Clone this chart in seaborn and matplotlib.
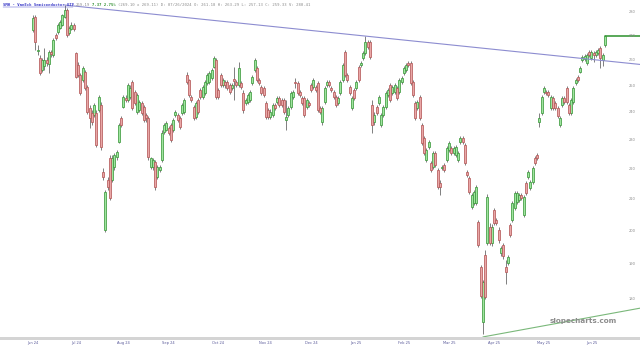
import numpy as np
import pandas as pd
import matplotlib
matplotlib.use("Agg")
import matplotlib.pyplot as plt
import matplotlib.transforms as mtransforms
from matplotlib.patches import Rectangle
import seaborn as sns
from pandas.tseries.holiday import USFederalHolidayCalendar

# ---------------- data ----------------
opens = [
    272.3, 277.9, 263.6, 260.8, 256.1, 257.6, 260.0, 258.4, 263.2, 262.0,
    270.2, 271.5, 273.2, 274.5, 277.9, 280.9, 271.1, 272.8, 274.5, 262.8,
    258.0, 254.1, 252.2, 255.3, 249.5, 241.6, 239.7, 239.0, 239.7, 240.8,
    242.7, 219.0, 200.3, 216.3, 223.7, 216.3, 220.6, 224.1, 229.3, 237.9,
    241.9, 245.3, 244.5, 245.7, 251.4, 247.6, 240.1, 240.8, 243.4, 241.9,
    239.0, 237.9, 220.6, 220.6, 222.3, 217.3, 219.6, 223.0, 232.8, 233.5,
    234.3, 235.3, 233.5, 239.0, 239.0, 237.9, 239.7, 240.1, 254.1, 252.2,
    245.7, 241.9, 238.3, 244.5, 248.3, 245.7, 247.2, 251.0, 251.4, 253.0,
    257.2, 260.0, 248.3, 254.1, 250.2, 251.4, 251.4, 250.2, 249.1, 252.6,
    251.4, 250.2, 251.0, 247.2, 243.4, 243.8, 244.5, 251.0, 256.1, 256.8,
    252.2, 249.5, 249.1, 243.4, 240.8, 238.3, 239.0, 242.7, 243.8, 245.3,
    244.5, 244.5, 237.2, 239.0, 241.9, 245.7, 251.4, 251.0, 247.6, 245.3,
    245.3, 241.9, 243.4, 250.2, 249.5, 249.5, 251.0, 241.6, 236.4, 243.8,
    250.2, 251.4, 249.1, 247.6, 245.7, 243.4, 247.2, 252.2, 263.2, 254.1,
    249.5, 241.6, 248.3, 249.1, 257.2, 258.0, 260.8, 262.8, 267.3, 267.3,
    242.7, 236.4, 241.9, 243.4, 235.3, 239.0, 241.9, 246.4, 250.2, 247.2,
    247.6, 249.1, 247.6, 251.4, 254.9, 256.1, 258.8, 258.8, 251.4, 243.4,
    241.6, 245.7, 235.3, 230.6, 223.0, 227.5, 222.0, 220.6, 225.4, 219.6,
    215.3, 220.3, 221.3, 223.0, 226.5, 227.2, 225.4, 224.7, 223.0, 229.3,
    230.6, 228.2, 219.0, 217.0, 207.5, 208.8, 208.8, 202.7, 189.0, 173.7,
    192.7, 196.3, 201.2, 196.3, 206.5, 203.4, 200.3, 193.3, 195.7, 189.0,
    190.4, 201.8, 203.4, 207.2, 209.1, 209.7, 211.3, 204.9, 215.3, 217.3,
    213.7, 215.6, 223.7, 224.7, 236.4, 239.7, 247.6, 247.6, 247.6, 241.6,
    245.3, 243.4, 241.6, 235.3, 242.7, 245.3, 249.1, 242.7, 239.7, 243.8,
    251.0, 253.4, 255.3, 260.0, 260.4, 258.8, 263.2, 260.8, 262.8, 262.0,
    262.8, 264.8, 260.0, 266.1,
]
highs = [
    278.7, 278.7, 266.1, 262.0, 260.8, 264.8, 261.2, 264.0, 264.0, 269.0,
    271.1, 275.3, 276.6, 279.1, 283.0, 281.7, 274.0, 275.7, 275.3, 263.2,
    259.2, 254.9, 257.6, 256.1, 250.2, 242.7, 240.8, 243.4, 240.8, 246.4,
    243.8, 220.3, 213.0, 217.3, 224.7, 224.7, 225.4, 226.5, 236.1, 238.6,
    246.4, 246.4, 251.0, 250.2, 252.2, 248.3, 247.2, 244.5, 244.2, 242.7,
    239.7, 238.6, 224.1, 223.7, 223.0, 221.3, 221.3, 233.5, 236.1, 236.8,
    235.0, 236.1, 237.9, 240.8, 239.7, 238.6, 243.4, 245.3, 255.3, 252.6,
    246.4, 242.7, 244.2, 245.3, 249.1, 250.2, 252.2, 254.9, 255.7, 256.8,
    261.6, 260.8, 249.1, 254.9, 253.0, 252.2, 252.2, 251.0, 251.0, 257.2,
    252.2, 259.2, 251.8, 248.3, 245.3, 247.2, 248.3, 254.1, 260.8, 257.6,
    253.0, 250.2, 249.9, 244.2, 241.6, 241.2, 243.4, 243.4, 246.0, 246.0,
    245.3, 245.3, 244.5, 242.3, 247.9, 248.3, 253.0, 251.8, 248.3, 246.0,
    246.0, 245.3, 244.2, 251.0, 253.0, 250.2, 251.8, 242.3, 242.3, 249.9,
    252.2, 252.2, 249.9, 248.3, 246.4, 246.0, 252.2, 258.8, 264.0, 254.9,
    250.2, 246.0, 249.1, 252.2, 258.0, 259.6, 263.6, 269.8, 268.1, 268.1,
    244.5, 240.1, 242.7, 246.4, 239.7, 242.7, 247.9, 249.1, 251.0, 250.2,
    251.0, 249.9, 253.0, 253.8, 257.6, 258.8, 259.6, 259.6, 252.2, 244.2,
    244.5, 246.4, 236.1, 231.4, 227.2, 230.0, 222.7, 226.1, 226.1, 220.3,
    216.3, 221.3, 222.0, 227.9, 229.6, 227.9, 227.9, 228.2, 226.1, 231.4,
    231.4, 228.9, 219.6, 217.6, 212.0, 213.0, 214.6, 203.4, 189.6, 185.5,
    194.2, 211.6, 202.4, 202.1, 207.2, 204.0, 201.2, 195.4, 196.3, 191.3,
    192.7, 202.4, 209.4, 212.6, 212.6, 212.0, 212.0, 211.3, 216.0, 219.6,
    216.3, 221.0, 224.4, 225.4, 239.7, 246.4, 249.9, 248.3, 248.3, 246.4,
    246.0, 244.2, 242.3, 238.6, 246.0, 246.0, 249.9, 243.4, 245.3, 249.9,
    253.0, 254.1, 257.6, 262.0, 262.4, 262.8, 264.0, 264.0, 263.6, 264.0,
    264.8, 265.6, 262.8, 270.2,
]
lows = [
    271.5, 264.0, 262.0, 254.1, 255.3, 256.1, 257.6, 254.9, 261.2, 261.2,
    268.1, 270.6, 272.8, 274.0, 277.4, 269.4, 270.2, 272.3, 271.9, 253.0,
    253.4, 246.4, 251.4, 248.3, 239.4, 234.3, 235.3, 238.3, 227.5, 240.1,
    226.5, 216.3, 199.7, 213.0, 209.7, 215.6, 219.6, 223.0, 228.9, 234.6,
    241.6, 243.8, 243.8, 245.0, 240.8, 242.7, 239.4, 240.1, 239.0, 236.4,
    236.4, 223.0, 220.0, 219.6, 213.0, 216.6, 219.0, 222.3, 232.1, 233.1,
    231.7, 229.3, 232.8, 238.3, 236.4, 233.9, 239.0, 239.4, 250.7, 245.7,
    243.8, 237.2, 237.5, 239.4, 245.0, 245.0, 246.4, 250.2, 250.7, 252.2,
    256.8, 244.9, 245.0, 249.5, 249.5, 249.1, 248.3, 246.8, 248.3, 244.5,
    249.5, 249.5, 248.7, 239.7, 242.7, 243.0, 243.8, 250.2, 255.3, 251.4,
    250.2, 246.4, 245.7, 237.5, 237.5, 237.5, 238.3, 240.8, 243.0, 241.9,
    241.9, 239.4, 233.5, 238.3, 241.2, 245.0, 249.1, 246.4, 245.7, 242.7,
    238.3, 241.2, 241.9, 247.6, 248.7, 247.6, 240.1, 239.4, 235.3, 243.0,
    249.5, 249.5, 247.6, 245.0, 241.9, 242.7, 246.4, 251.4, 253.4, 251.4,
    246.4, 240.8, 244.5, 248.3, 251.4, 257.2, 260.0, 262.0, 264.4, 260.4,
    232.4, 235.3, 239.0, 242.7, 234.6, 238.3, 241.2, 245.7, 243.8, 246.4,
    246.8, 244.5, 246.8, 250.7, 254.1, 255.3, 257.2, 250.2, 245.7, 237.2,
    240.8, 237.2, 228.2, 224.7, 222.3, 226.8, 218.9, 220.0, 220.6, 213.3,
    211.3, 219.6, 218.9, 222.3, 225.8, 224.7, 224.7, 224.1, 222.3, 228.5,
    228.5, 221.3, 217.3, 211.6, 206.8, 208.1, 208.1, 195.1, 180.2, 170.5,
    180.0, 195.7, 195.7, 195.4, 201.8, 201.8, 196.3, 192.4, 191.6, 184.1,
    189.6, 198.1, 202.7, 206.5, 208.4, 209.1, 209.7, 204.3, 211.3, 216.6,
    213.0, 215.0, 221.3, 223.0, 234.6, 239.0, 246.8, 246.4, 245.7, 240.8,
    240.8, 240.8, 237.9, 234.6, 241.9, 243.0, 243.0, 239.0, 239.0, 243.0,
    250.2, 251.4, 254.9, 259.2, 259.6, 258.0, 261.2, 260.0, 259.2, 261.2,
    262.0, 256.8, 257.6, 265.2,
]
closes = [
    277.4, 267.3, 264.0, 254.9, 260.0, 260.0, 258.8, 263.2, 262.4, 268.1,
    269.0, 274.5, 275.7, 278.7, 280.9, 270.2, 273.2, 274.5, 272.8, 253.4,
    254.1, 247.2, 256.8, 249.1, 240.1, 237.9, 236.4, 242.7, 228.2, 245.7,
    227.5, 217.3, 212.3, 214.0, 210.4, 223.7, 224.7, 225.8, 235.3, 235.3,
    245.7, 244.5, 250.2, 249.1, 241.6, 243.4, 246.4, 243.8, 239.7, 237.2,
    237.9, 224.1, 223.7, 223.0, 214.0, 220.6, 220.6, 232.4, 235.3, 236.1,
    232.4, 230.0, 237.2, 240.1, 237.2, 234.6, 242.7, 244.5, 251.4, 246.4,
    244.5, 237.9, 243.4, 240.1, 245.7, 249.5, 251.4, 254.1, 254.9, 256.1,
    260.8, 245.7, 245.7, 250.2, 252.2, 250.2, 249.1, 247.6, 250.2, 251.8,
    250.2, 256.8, 249.5, 240.8, 244.5, 246.4, 247.6, 253.4, 260.0, 252.2,
    251.0, 247.2, 246.4, 238.3, 238.3, 240.1, 242.7, 241.6, 245.3, 242.7,
    242.7, 240.1, 238.3, 241.6, 247.2, 247.6, 251.0, 247.2, 246.4, 243.4,
    239.0, 244.5, 242.7, 248.3, 252.2, 248.3, 240.8, 240.1, 241.6, 249.1,
    251.4, 250.2, 248.3, 245.7, 242.7, 245.3, 251.4, 258.0, 254.1, 252.2,
    247.2, 245.3, 245.3, 251.4, 252.2, 258.8, 262.8, 267.3, 265.2, 261.2,
    235.3, 239.0, 239.7, 245.7, 239.0, 241.9, 247.2, 248.3, 244.5, 249.5,
    250.2, 245.3, 252.2, 253.0, 256.8, 258.0, 258.0, 251.0, 246.4, 237.9,
    243.8, 237.9, 228.9, 225.4, 226.5, 229.3, 219.6, 225.4, 221.3, 214.0,
    214.0, 220.6, 219.6, 227.2, 228.9, 225.4, 227.2, 227.5, 225.4, 230.6,
    229.3, 222.0, 217.9, 212.3, 211.3, 212.3, 214.0, 195.7, 180.8, 184.9,
    180.5, 210.7, 196.3, 201.2, 202.4, 202.4, 197.2, 194.8, 192.2, 187.8,
    191.9, 198.7, 208.8, 212.0, 212.0, 211.3, 210.4, 210.7, 212.0, 219.0,
    215.6, 220.3, 222.0, 223.7, 237.9, 245.7, 249.1, 247.2, 246.4, 245.7,
    241.6, 241.6, 238.6, 237.9, 245.3, 243.8, 243.8, 239.7, 244.5, 249.1,
    252.2, 252.2, 256.8, 261.2, 261.6, 262.0, 262.0, 263.2, 262.0, 263.2,
    264.0, 260.8, 262.0, 270.0,
]
start_date = "2024-06-18"
tick_dates = ["2024-06-18", "2024-07-17", "2024-08-15", "2024-09-13", "2024-10-16",
              "2024-11-15", "2024-12-16", "2025-01-15", "2025-02-14", "2025-03-17",
              "2025-04-14", "2025-05-14", "2025-06-13"]
price_levels = [180, 190, 200, 210, 220, 230, 240, 250, 260, 270, 280]
support_end_price = 177.5
ticker_name = "SMH - VanEck Semiconductor ETF"
quote_last = "269.19"
quote_change = "7.37 2.75%"
quote_rest = "(269.10 x 269.11) D: 07/26/2024 O: 261.18 H: 263.29 L: 257.13 C: 259.33 V: 280.41"
watermark = "slopecharts.com"

# ---------------- build frame ----------------
n = len(closes)
hol = USFederalHolidayCalendar().holidays(start="2024-01-01", end="2025-12-31")
dates = pd.bdate_range(start=start_date, periods=n, freq="C", holidays=hol)
df = pd.DataFrame({"date": dates, "open": opens, "high": highs,
                   "low": lows, "close": closes})
df["idx"] = np.arange(n)
df["up"] = df["close"] >= df["open"]

sns.set_style("white")
W, H = 640, 349
fig = plt.figure(figsize=(W / 100, H / 100), dpi=100)
fig.patch.set_facecolor("white")
ax = fig.add_axes([0, 12 / H, 1, 337 / H])
ax.set_facecolor("white")
ax.set_yscale("log")

px_per = (605 - 33) / (n - 1)
x_left = -33 / px_per
x_right = (n - 1) + (W - 605) / px_per
ax.set_xlim(x_left, x_right)
ax.set_ylim(169.8, 285.2)

# wicks
ax.vlines(df["idx"], df["low"], df["high"], color="#6a6a6a", linewidth=0.6, zorder=2)
# bodies
body_bottom = np.minimum(df["open"], df["close"])
body_h = np.maximum(np.abs(df["close"] - df["open"]), 0.25)
up = df["up"].values
ax.bar(df["idx"][up], body_h[up], bottom=body_bottom[up], width=0.9,
       color="#9fe59f", edgecolor="#3f9a3f", linewidth=0.55, zorder=3)
ax.bar(df["idx"][~up], body_h[~up], bottom=body_bottom[~up], width=0.9,
       color="#eaa7a7", edgecolor="#b55a5a", linewidth=0.55, zorder=3)

# resistance trend line through the July 2024 high and January 2025 high
h = np.asarray(highs)
i1 = int(np.argmax(h[:40]))
i2 = 130 + int(np.argmax(h[130:160]))
slope = (np.log(h[i2]) - np.log(h[i1])) / (i2 - i1)
res_end = float(np.exp(np.log(h[i1]) + slope * (x_right - i1)))
sns.lineplot(x=[i1, x_right], y=[h[i1], res_end], ax=ax, color="#8c8cd0",
             linewidth=0.8, zorder=4)

# support line from the April 2025 low
lo = np.asarray(lows)
il = int(np.argmin(lo))
sns.lineplot(x=[il, x_right], y=[lo[il] * 0.996, support_end_price], ax=ax,
             color="#7ab87a", linewidth=0.8, zorder=4)

# last price line
sns.lineplot(x=[n - 1, x_right], y=[closes[-1], closes[-1]], ax=ax,
             color="#3c9a3c", linewidth=1.2, zorder=4)

# right-side price labels (inside plot)
trans = mtransforms.blended_transform_factory(ax.transAxes, ax.transData)
for v in price_levels:
    ax.text(632 / W, v, f"{v}", transform=trans, ha="center", va="center",
            fontsize=2.6, color="#8a8a8a", zorder=5)

# x ticks
tick_idx = np.searchsorted(dates.values, pd.to_datetime(tick_dates).values)
ax.set_xticks(tick_idx)
ax.set_xticklabels([pd.Timestamp(d).strftime("%b %y") for d in tick_dates],
                   fontsize=2.6, color="#5a5a9a")
ax.tick_params(axis="x", length=0, pad=2.6)
ax.set_yticks([])
ax.yaxis.set_minor_locator(matplotlib.ticker.NullLocator())
for s in ax.spines.values():
    s.set_visible(False)
ax.set_xlabel("")
ax.set_ylabel("")
if ax.get_legend():
    ax.get_legend().remove()

# gray band under the plot
fig.add_artist(Rectangle((0, (H - 340) / H), 1, 3 / H, transform=fig.transFigure,
                         facecolor="#d4d4d4", edgecolor="none", zorder=1))

# header text: consecutive monospace segments, placed side by side
mono = "DejaVu Sans Mono"
fs = 2.8
char_px = 0.602 * fs * 100 / 72
y0 = 1 - 4.5 / H
segments = [
    (ticker_name, "#3a3ac8", "bold"),
    (quote_last, "#8a8a8a", "normal"),
    (quote_change, "#2f8f2f", "bold"),
    (quote_rest, "#8a8a8a", "normal"),
]
x_px = 3.0
for txt, col, wt in segments:
    fig.text(x_px / W, y0, txt, family=mono, fontsize=fs, color=col,
             va="center", ha="left", weight=wt)
    x_px += (len(txt) + 1) * char_px
fig.add_artist(plt.Line2D([3 / W, (3 + len(ticker_name) * char_px) / W],
                          [1 - 7 / H, 1 - 7 / H],
                          transform=fig.transFigure, color="#3a3ac8", linewidth=0.3))

# watermark
fig.text(583 / W, 1 - 321 / H, watermark, ha="center", va="center",
         fontsize=5.2, color="#8c8c8c", weight="bold")

fig.savefig("out.png", dpi=100, facecolor="white")
